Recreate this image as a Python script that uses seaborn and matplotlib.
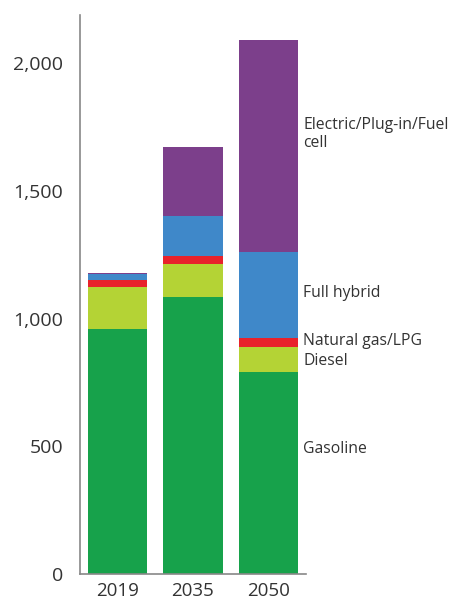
import matplotlib
matplotlib.use("Agg")
import matplotlib.pyplot as plt
import matplotlib.transforms as mtransforms
import numpy as np
import pandas as pd
import seaborn as sns

years = ["2019", "2035", "2050"]
gasoline = [958, 1087, 792]
diesel = [167, 127, 99]
natural_gas = [27, 31, 33]
full_hybrid = [25, 156, 339]
electric = [3, 270, 829]

series_names = ["Gasoline", "Diesel", "Natural gas/LPG", "Full hybrid",
                "Electric/Plug-in/Fuel\ncell"]
series_colors = ["#17a24b", "#b4d335", "#e8222b", "#3f88c9", "#7c3f8b"]
label_values = [490, 833, 913, 1099, 1723]

sns.set_theme(style="white")
plt.rcParams["font.family"] = ["Open Sans", "DejaVu Sans"]

fig = plt.figure(figsize=(4.49, 6.04), dpi=100)
ax = fig.add_axes([80 / 449, 30 / 604, 226 / 449, 559 / 604])

layers = np.array([gasoline, diesel, natural_gas, full_hybrid, electric])
cumulative = layers.cumsum(axis=0)

# Draw cumulative totals from the top layer down so each lower stack covers the one above
for i in range(len(layers) - 1, -1, -1):
    df = pd.DataFrame({"year": years, "value": cumulative[i]})
    sns.barplot(data=df, x="year", y="value", color=series_colors[i],
                saturation=1, width=0.79, linewidth=0, ax=ax, zorder=2)

ax.set_xlim(-0.5, 2.5)
ax.set_ylim(0, 2190)
ax.set_yticks([0, 500, 1000, 1500, 2000])
ax.set_yticklabels(["0", "500", "1,000", "1,500", "2,000"])
ax.set_xlabel("")
ax.set_ylabel("")
ax.tick_params(axis="both", length=0, labelsize=14, colors="#333333")
ax.tick_params(axis="x", labelsize=13.5)
ax.tick_params(axis="y", pad=12)
ax.tick_params(axis="x", pad=6)

for side in ["top", "right"]:
    ax.spines[side].set_visible(False)
for side in ["left", "bottom"]:
    ax.spines[side].set_color("#888888")
    ax.spines[side].set_linewidth(1.2)

trans = mtransforms.blended_transform_factory(ax.transAxes, ax.transData)
for name, yv in zip(series_names, label_values):
    ax.text(0.987, yv, name, transform=trans, ha="left", va="center",
            fontsize=11.3, color="#333333", clip_on=False, linespacing=1.2)

fig.savefig("out.png", dpi=100)
